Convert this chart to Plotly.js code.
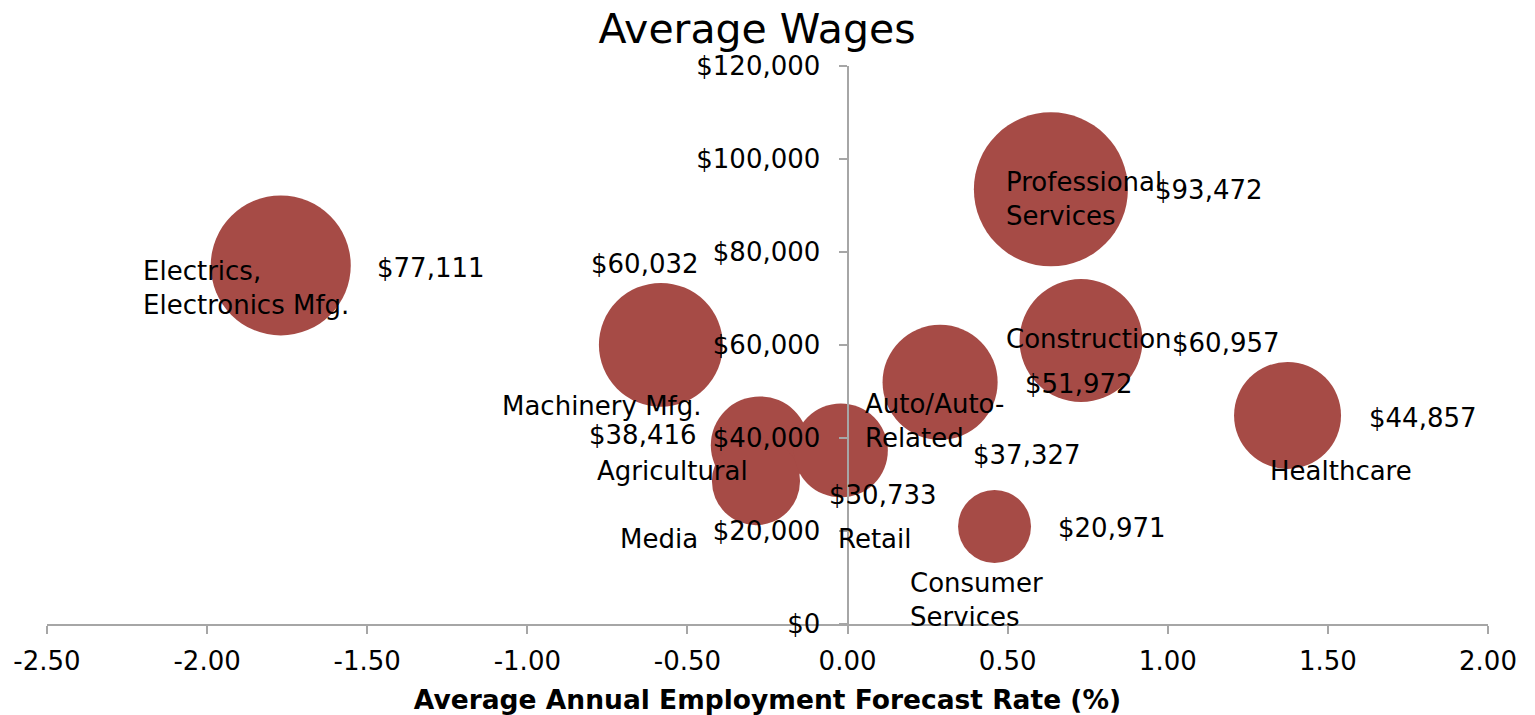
<!DOCTYPE html>
<html>
<head>
<meta charset="utf-8">
<script src="https://cdn.plot.ly/plotly-3.0.1.min.js"></script>
<style>
  html, body { margin: 0; padding: 0; background: #ffffff; }
  #chart { width: 1535px; height: 715px; }
</style>
</head>
<body>
<div id="chart"></div>
<script>
// ---- data ----
const industries = [
  "Electrics,<br>Electronics Mfg.",
  "Machinery Mfg.",
  "Agricultural",
  "Media",
  "Retail",
  "Auto/Auto-<br>Related",
  "Construction",
  "Healthcare",
  "Professional<br>Services",
  "Consumer<br>Services"
];
const forecastRate = [-1.770, -0.583, -0.274, -0.286, -0.021, 0.289, 0.729, 1.374, 0.635, 0.459];
const averageWage = [77111, 60032, 38416, 30733, 37327, 51972, 60957, 44857, 93472, 20971];
// bubble size (relative employment)
const bubbleSize = [49.0, 38.4, 24.0, 19.4, 22.1, 33.1, 37.8, 28.6, 59.3, 13.3];

const xTickVals = [-2.5, -2.0, -1.5, -1.0, -0.5, 0.0, 0.5, 1.0, 1.5, 2.0];
const xTickText = ["-2.50", "-2.00", "-1.50", "-1.00", "-0.50", "0.00", "0.50", "1.00", "1.50", "2.00"];
const yTickVals = [0, 20000, 40000, 60000, 80000, 100000, 120000];
const yTickText = ["$0", "$20,000", "$40,000", "$60,000", "$80,000", "$100,000", "$120,000"];

// ---- label placement (pixel offsets from each bubble, style only) ----
const nameDx = [-35, -59, -87, -96.5, 33.5, -5.5, 8, 53.5, 33.5, -18];
const nameDy = [21.6, 61, 25.6, 57, 87.6, 37.7, -2.5, 54.6, 9.6, 73.5];
const valDx  = [150, -16, -116.5, 127, 186.5, 138.5, 145, 135, 158, 117.5];
const valDy  = [1.6, -81, -11, 13, 3.6, 0.7, 1.5, 1.6, 0.6, 1];

const FONT = "DejaVu Sans, Verdana, sans-serif";
const BUBBLE = "rgb(166,75,70)";
const AXIS = "#a6a6a6";
const TEXT_ADJ = -0.5; // visual centre of glyphs vs. text box centre

const fmt = v => "$" + v.toLocaleString("en-US");

const annotations = [];
for (let i = 0; i < industries.length; i++) {
  annotations.push({
    x: forecastRate[i], y: averageWage[i], xref: "x", yref: "y",
    text: industries[i], showarrow: false, align: "left",
    xanchor: "center", yanchor: "middle",
    xshift: nameDx[i], yshift: -nameDy[i] + TEXT_ADJ,
    font: { family: FONT, size: 26, color: "#000" }
  });
  annotations.push({
    x: forecastRate[i], y: averageWage[i], xref: "x", yref: "y",
    text: fmt(averageWage[i]), showarrow: false,
    xanchor: "center", yanchor: "middle",
    xshift: valDx[i], yshift: -valDy[i] + TEXT_ADJ,
    font: { family: FONT, size: 26, color: "#000" }
  });
}

const trace = {
  type: "scatter",
  mode: "markers",
  x: forecastRate,
  y: averageWage,
  marker: {
    size: bubbleSize,
    sizemode: "area",
    sizeref: 1 / 200,
    color: BUBBLE,
    opacity: 1,
    line: { width: 0 }
  },
  hoverinfo: "skip",
  cliponaxis: false
};

const xMin = -2.5, xMax = 2.0;
const layout = {
  width: 1535, height: 715,
  paper_bgcolor: "#ffffff", plot_bgcolor: "#ffffff",
  margin: { l: 47, r: 47, t: 66, b: 91, pad: 0 },
  showlegend: false,
  title: {
    text: "Average Wages",
    font: { family: FONT, size: 41, color: "#000" },
    xref: "container", yref: "container",
    x: 757 / 1535, xanchor: "center",
    y: 1 - 29 / 715, yanchor: "middle"
  },
  xaxis: {
    range: [xMin, xMax],
    tickvals: xTickVals,
    ticktext: xTickText,
    ticks: "outside", ticklen: 8, tickwidth: 2, tickcolor: AXIS,
    showline: true, linecolor: AXIS, linewidth: 2,
    showgrid: false, zeroline: false,
    ticklabelstandoff: 5,
    tickfont: { family: FONT, size: 26, color: "#000" },
    title: {
      text: "<b>Average Annual Employment Forecast Rate (%)</b>",
      font: { family: FONT, size: 26.5, color: "#000" },
      standoff: 15
    },
    fixedrange: true
  },
  yaxis: {
    range: [0, 120000],
    tickvals: yTickVals,
    ticktext: yTickText,
    anchor: "free",
    position: (0 - xMin) / (xMax - xMin),
    ticks: "outside", ticklen: 8, tickwidth: 2, tickcolor: AXIS,
    showline: true, linecolor: AXIS, linewidth: 2,
    showgrid: false, zeroline: false,
    ticklabelstandoff: 13,
    tickfont: { family: FONT, size: 26, color: "#000" },
    fixedrange: true
  },
  annotations: annotations
};

Plotly.newPlot("chart", [trace], layout, { displayModeBar: false, staticPlot: true });
</script>
</body>
</html>
